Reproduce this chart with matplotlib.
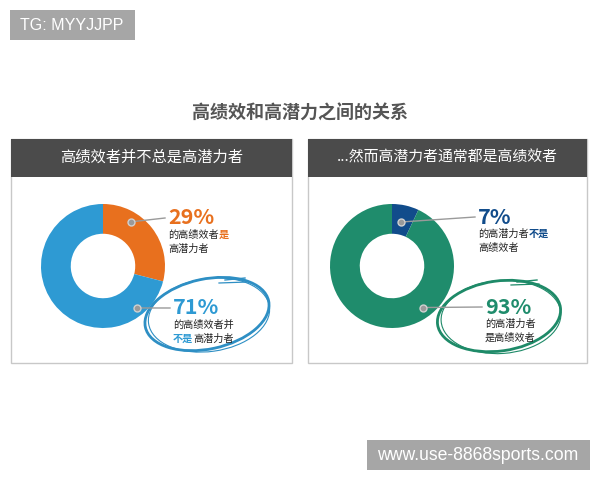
import matplotlib.pyplot as plt
from matplotlib.patches import Rectangle, Ellipse
import numpy as np

plt.rcParams['font.family'] = ['Noto Sans CJK SC', 'DejaVu Sans']

title = '高绩效和高潜力之间的关系'
panel_titles = ['高绩效者并不总是高潜力者', '...然而高潜力者通常都是高绩效者']
left_vals = [29, 71]
right_vals = [7, 93]
left_colors = ['#e8701e', '#2e9ad3']
right_colors = ['#114c8b', '#1f8c6c']
left_notes = [['的高绩效者', ('是', True)], ['高潜力者'],
              ['的高绩效者并'], [('不是', True), '高潜力者']]
right_notes = [['的高潜力者', ('不是', True)], ['高绩效者'],
               ['的高潜力者'], ['是高绩效者']]

W, H = 600, 480
fig = plt.figure(figsize=(6, 4.8), dpi=100)
ax = fig.add_axes([0, 0, 1, 1])


def Y(y):
    return H - y


def colored_line(x, y, parts, color, size=7.3):
    # plain and highlighted chunks, CJK glyphs are one em wide
    em = size * 100 / 72
    for p in parts:
        if isinstance(p, tuple):
            txt, hl = p
        else:
            txt, hl = p, False
        ax.text(x, Y(y), txt, fontsize=size, va='center', ha='left',
                color=color if hl else '#222222',
                fontweight='bold' if hl else 'normal', zorder=5)
        x += len(txt) * em


def panel(x0, x1, head, head_size, vals, colors, notes, cx, dots, texts, ell):
    ax.add_patch(Rectangle((x0, Y(363)), x1 - x0, 224, fc='white', ec='#c8c8c8', lw=1))
    ax.add_patch(Rectangle((x0, Y(177)), x1 - x0, 38, fc='#4b4b4b', ec='none'))
    ax.text((x0 + x1) / 2, Y(157), head, color='white', fontsize=head_size,
            ha='center', va='center')
    cy, r = 266, 62
    ax.pie(vals, colors=colors, startangle=90, counterclock=False,
           center=(cx, Y(cy)), radius=r, wedgeprops=dict(width=r * 0.48, lw=0))
    for i, v in enumerate(vals):
        ang, rr = dots[i]
        px = cx + rr * np.cos(np.radians(ang))
        py = Y(cy) + rr * np.sin(np.radians(ang))
        tx, ty = texts[i]
        ax.plot([px, tx - 3], [py, Y(ty)], color='#9a9a9a', lw=1)
        ax.plot(px, py, 'o', color='#9a9a9a', mec='#d0d0d0', ms=5)
        ax.text(tx, Y(ty), f'{v}%', color=colors[i], fontsize=15.5,
                fontweight='bold', ha='left', va='center', zorder=5)
        colored_line(tx, ty + 17, notes[2 * i], colors[i])
        colored_line(tx, ty + 31, notes[2 * i + 1], colors[i])
    ex, ey, ew, eh, ea, ec = ell
    ax.add_patch(Ellipse((ex, Y(ey)), ew, eh, angle=ea, fill=False, ec=ec, lw=2.0))
    ax.add_patch(Ellipse((ex + 2, Y(ey) - 1), ew - 4, eh + 3, angle=ea - 4,
                         fill=False, ec=ec, lw=0.8))
    ax.plot([ex + 18, ex + 38], [Y(ey - 34), Y(ey - 36)], color=ec, lw=1.0)
    ax.plot([ex + 12, ex + 40], [Y(ey - 31), Y(ey - 32)], color=ec, lw=0.9)


panel(11, 292, panel_titles[0], 11, left_vals, left_colors, left_notes, 103,
      [(58, 52), (-51, 54)], [(168, 218), (173, 308)],
      (207, 314, 126, 70, 12, '#2e8fc4'))
panel(308, 587, panel_titles[1], 10.7, right_vals, right_colors, right_notes, 392,
      [(78, 45), (-53, 52)], [(478, 217), (485, 307)],
      (499, 316, 124, 70, 8, '#1e8a68'))

ax.text(300, Y(113), title, fontsize=13, fontweight='bold', color='#555555',
        ha='center', va='center')

ax.add_patch(Rectangle((10, Y(40)), 125, 30, fc='#a6a6a6', ec='none'))
ax.text(72, Y(25), 'TG: MYYJJPP', color='white', fontsize=11.5,
        family='Liberation Sans', ha='center', va='center')
ax.add_patch(Rectangle((367, Y(470)), 223, 30, fc='#a6a6a6', ec='none'))
ax.text(478, Y(455), 'www.use-8868sports.com', color='white', fontsize=12.7,
        family='Liberation Sans', ha='center', va='center')

ax.set_xlim(0, W)
ax.set_ylim(0, H)
ax.set_aspect('auto')
ax.axis('off')
fig.savefig('out.png')
